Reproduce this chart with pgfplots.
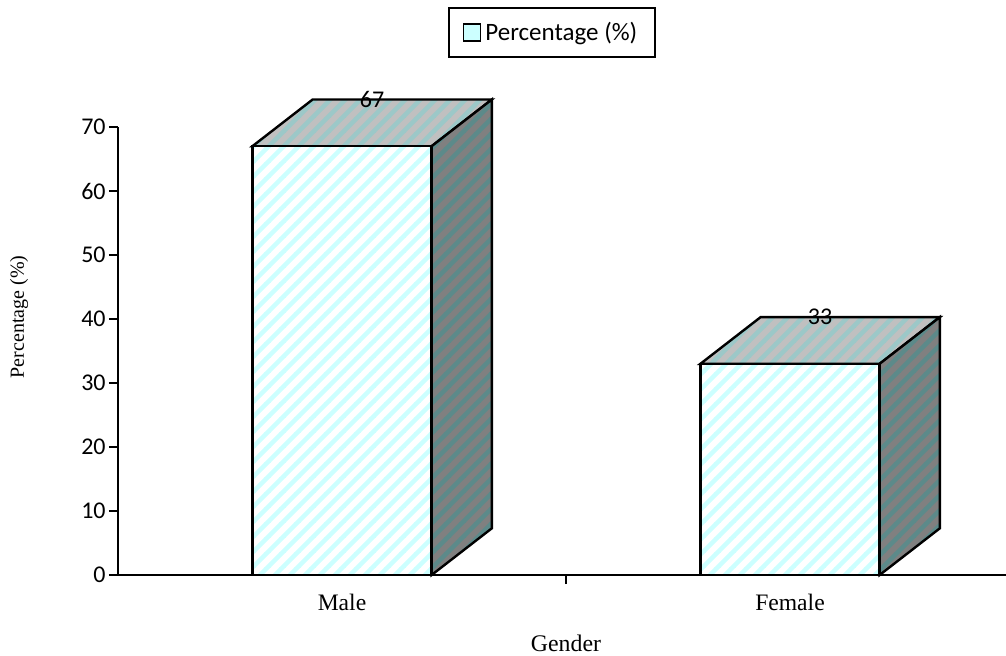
\documentclass[border=0pt]{standalone}
\usepackage{fontspec}
\setmainfont{Liberation Serif}
\newfontfamily\calibri{Carlito}
\usepackage{pgfplots}
\pgfplotsset{compat=1.18}
\usetikzlibrary{patterns}
\definecolor{frontbg}{RGB}{255,255,255}
\definecolor{frontstripe}{RGB}{204,255,255}
\definecolor{topbg}{RGB}{192,192,192}
\definecolor{topstripe}{RGB}{156,200,200}
\definecolor{sidebg}{RGB}{128,128,128}
\definecolor{sidestripe}{RGB}{92,138,138}
\newcommand\stripepattern[3]{%
\pgfdeclarepatterninherentlycolored{#1}{\pgfpoint{-1pt}{-1pt}}{\pgfpoint{8.5pt}{8.5pt}}{\pgfpoint{7.5pt}{7.5pt}}{%
  \pgfsetfillcolor{#2}%
  \pgfpathrectangle{\pgfpoint{-1pt}{-1pt}}{\pgfpoint{9.5pt}{9.5pt}}%
  \pgfusepath{fill}%
  \pgfsetstrokecolor{#3}%
  \pgfsetlinewidth{2.2pt}%
  \pgfpathmoveto{\pgfpoint{-3pt}{-10.5pt}}\pgfpathlineto{\pgfpoint{11pt}{3.5pt}}%
  \pgfpathmoveto{\pgfpoint{-3pt}{-3pt}}\pgfpathlineto{\pgfpoint{11pt}{11pt}}%
  \pgfpathmoveto{\pgfpoint{-3pt}{4.5pt}}\pgfpathlineto{\pgfpoint{11pt}{18.5pt}}%
  \pgfusepath{stroke}%
}}
\stripepattern{frontpat}{frontbg}{frontstripe}
\stripepattern{toppat}{topbg}{topstripe}
\stripepattern{sidepat}{sidebg}{sidestripe}
\begin{document}
\begin{tikzpicture}
\begin{axis}[
  at={(59pt,40pt)}, anchor=south west,
  scale only axis, width=448pt, height=224pt,
  xmin=-0.5, xmax=1.5, ymin=0, ymax=70,
  clip=false,
  axis x line*=bottom, axis y line*=left,
  axis line style={-, line width=0.9pt},
  xtick={0.5}, xticklabels={},
  extra x ticks={0,1}, extra x tick labels={Male,Female},
  extra x tick style={major tick length=0pt},
  xticklabel style={anchor=base, yshift=-17.5pt, font=\fontsize{11.8}{14}\selectfont},
  ytick={0,10,...,70},
  tick align=outside,
  major tick length=4.5pt,
  tick style={line width=0.9pt, black},
  /pgf/number format/assume math mode=true,
  yticklabel style={font=\calibri\fontsize{12}{14}\selectfont, anchor=east, inner sep=0pt, xshift=-1.5pt},
  xlabel={Gender},
  xlabel style={at={(axis description cs:0.5,0)}, anchor=base, yshift=-38pt, font=\fontsize{11.9}{14}\selectfont},
  ylabel={Percentage (\%)},
  ylabel style={at={(axis description cs:-0.1105,0.576)}, anchor=center, font=\fontsize{10}{12}\selectfont},
  legend style={at={(axis description cs:0.4844,1.2109)}, anchor=center, draw=black, line width=0.9pt, font=\calibri\fontsize{12.5}{15}\selectfont, inner xsep=6.75pt, inner ysep=5pt},
  legend image code/.code={\draw[fill=frontstripe, line width=0.8pt] (0pt,-4.25pt) rectangle (8.5pt,4.25pt);},
]
% top faces
\addplot[forget plot, mark=none, draw=black, line width=1.2pt, pattern=toppat]
  coordinates {(-0.2,67) (0.2,67) (0.3345,74.3) (-0.0655,74.3)} -- cycle;
\addplot[forget plot, mark=none, draw=black, line width=1.2pt, pattern=toppat]
  coordinates {(0.8,33) (1.2,33) (1.3345,40.3) (0.9345,40.3)} -- cycle;
% side faces
\addplot[forget plot, mark=none, draw=black, line width=1.2pt, pattern=sidepat]
  coordinates {(0.2,0) (0.3345,7.3) (0.3345,74.3) (0.2,67)} -- cycle;
\addplot[forget plot, mark=none, draw=black, line width=1.2pt, pattern=sidepat]
  coordinates {(1.2,0) (1.3345,7.3) (1.3345,40.3) (1.2,33)} -- cycle;
% front faces
\addplot[ybar, bar width=0.4, bar shift=0pt, draw=black, line width=1.2pt, pattern=frontpat]
  coordinates {(0,67) (1,33)};
\addlegendentry{Percentage (\%)}
% value labels
\addplot[forget plot, draw=none, mark=none, point meta=y, nodes near coords,
  every node near coord/.append style={anchor=center, xshift=15pt, yshift=23.35pt, font=\calibri\fontsize{12}{14}\selectfont, text=black}]
  coordinates {(0,67) (1,33)};
\end{axis}
\pgfresetboundingbox
\path[use as bounding box] (0,0) rectangle (503pt,327.5pt);
\end{tikzpicture}
\end{document}
